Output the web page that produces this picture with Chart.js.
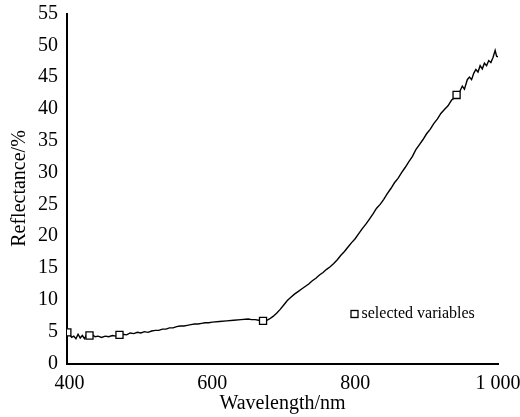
<!DOCTYPE html>
<html>
<head>
<meta charset="utf-8">
<script src="https://cdn.jsdelivr.net/npm/chart.js@4.4.1/dist/chart.umd.min.js"></script>
<style>
	html,body{margin:0;padding:0;background:#fff;}
	#wrap{width:520px;height:417px;position:relative;}
</style>
</head>
<body>
<div id="wrap"><canvas id="c" width="520" height="417"></canvas></div>
<script>
	// spectrum (nm, %)
	const wavelengths = [397,400,403,406,409,412,415,418,421,424,428,432,436,440,445,450,455,460,465,470,475,480,485,490,495,500,505,510,515,520,525,530,535,540,545,550,555,560,565,570,575,580,585,590,595,600,610,620,630,640,650,655,660,665,670,675,680,685,690,695,700,705,710,715,720,725,730,735,740,745,750,755,760,765,770,775,780,785,790,795,800,805,810,815,820,825,830,835,840,845,850,855,860,865,870,875,880,885,890,895,900,905,910,915,920,925,930,935,940,942,945,950,953,957,960,963,966,969,972,975,978,981,984,987,990,993,996,998,1000];
	const reflectance = [4.9,4.6,4.1,4.3,3.9,4.6,4.0,4.4,3.9,4.5,4.4,4.5,4.2,4.3,4.1,4.3,4.2,4.4,4.3,4.5,4.6,4.5,4.8,4.7,4.9,4.8,5.0,4.9,5.1,5.2,5.2,5.4,5.4,5.6,5.6,5.8,5.9,5.9,6.0,6.1,6.2,6.2,6.3,6.4,6.4,6.5,6.6,6.7,6.8,6.9,7.0,6.9,6.9,6.8,6.7,6.7,7.0,7.4,7.9,8.5,9.2,9.9,10.4,10.9,11.3,11.7,12.1,12.5,13.0,13.4,13.9,14.3,14.8,15.2,15.7,16.3,17.0,17.6,18.3,19.0,19.6,20.4,21.2,21.9,22.7,23.5,24.4,25.0,25.8,26.7,27.5,28.4,29.1,30.0,30.8,31.7,32.5,33.6,34.4,35.2,36.1,36.8,37.7,38.4,39.3,39.9,40.5,41.4,41.8,42.2,42.4,43.6,43.1,44.6,45.0,44.6,45.6,46.2,45.8,46.8,46.3,47.2,46.8,47.6,47.3,48.1,49.2,48.3,48.2];
	// selected variables
	const selectedWl = [397,428,470,671,942];
	const selectedVal = [4.9,4.4,4.5,6.7,42.2];
	const xTicks = [400,600,800,1000];
	const xTickLabels = ['400','600','800','1 000'];
	const legendText = 'selected variables';

	const FONT = 'Liberation Serif, Times New Roman, serif';

	const legendPlugin = {
		id:'boxLegend',
		afterDraw(chart){
			const ctx = chart.ctx, a = chart.chartArea;
			const x = a.left + 287.5, y = a.top + 300.5;
			ctx.save();
			ctx.strokeStyle = '#000'; ctx.lineWidth = 1.3; ctx.fillStyle = '#fff';
			ctx.fillRect(x-3.5, y-3.5, 7, 7);
			ctx.strokeRect(x-3.5, y-3.5, 7, 7);
			ctx.fillStyle = '#000'; ctx.font = '16px ' + FONT;
			ctx.textBaseline = 'middle';
			ctx.fillText(legendText, x + 7, y);
			ctx.restore();
		}
	};

	new Chart(document.getElementById('c'), {
		type:'line',
		data:{ datasets:[
			{ data: wavelengths.map((w,i)=>({x:w, y:reflectance[i]})), borderColor:'#000', borderWidth:1.4, pointRadius:0, tension:0, order:2 },
			{ type:'scatter', data: selectedWl.map((w,i)=>({x:w, y:selectedVal[i]})), pointStyle:'rect', pointRadius:5, borderColor:'#000', backgroundColor:'#fff', pointBorderWidth:1.3, order:1 }
		]},
		options:{
			responsive:false, animation:false, devicePixelRatio:1,
			layout:{ padding:{ top:13.5, right:22, left:0, bottom:0 } },
			plugins:{ legend:{display:false}, tooltip:{enabled:false} },
			scales:{
				x:{ type:'linear', min:396.5, max:1000,
					afterBuildTicks: s => { s.ticks = xTicks.map(v=>({value:v})); },
					afterFit: s => { s.height = 53.5; s.paddingRight = 0; s.paddingLeft = 0; },
					grid:{ display:false, drawTicks:true, tickLength:7, tickColor:'#000', tickWidth:1.5 },
					border:{ color:'#000', width:2 },
					ticks:{ color:'#000', font:{family:FONT, size:20}, padding:1, maxRotation:0,
						callback: v => xTickLabels[xTicks.indexOf(v)] },
					title:{ display:true, text:'Wavelength/nm', color:'#000', font:{family:FONT, size:20}, padding:{top:0,bottom:1} }
				},
				y:{ min:0, max:55,
					afterFit: s => { s.width = 67; s.paddingTop = 0; s.paddingBottom = 0; },
					grid:{ display:false, drawTicks:true, tickLength:7, tickColor:'#000', tickWidth:1.5 },
					border:{ color:'#000', width:2 },
					ticks:{ stepSize:5, color:'#000', font:{family:FONT, size:20}, padding:2 },
					title:{ display:true, text:'Reflectance/%', color:'#000', font:{family:FONT, size:20}, padding:{top:8,bottom:4} }
				}
			}
		},
		plugins:[legendPlugin]
	});
</script>
</body>
</html>
